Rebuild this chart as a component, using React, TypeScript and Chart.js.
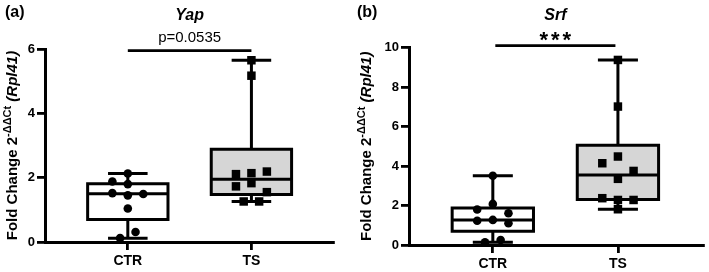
import React, { useEffect, useRef } from 'react';
import { Chart, registerables } from 'chart.js';

Chart.register(...registerables);

// ---------- data ----------
const categories = ['CTR', 'TS'];

// Yap: individual values
const yapCTR = [2.13, 1.88, 1.8, 1.52, 1.45, 1.49, 1.04, 0.31, 0.12];
const yapTS = [5.65, 5.17, 2.19, 2.14, 2.11, 1.83, 1.73, 1.55, 1.26, 1.26];
// Yap: box stats [min, Q1, median, Q3, max]
const yapCtrBox = [0.12, 0.7, 1.5, 1.81, 2.13];
const yapTsBox = [1.26, 1.48, 1.95, 2.88, 5.65];

// Srf: individual values
const srfCTR = [3.51, 2.08, 1.8, 1.61, 1.23, 1.27, 1.1, 0.14, 0.25];
const srfTS = [9.37, 7.01, 4.48, 4.14, 3.75, 3.35, 2.37, 2.28, 2.28, 1.81];
const srfCtrBox = [0.14, 0.7, 1.26, 1.87, 3.51];
const srfTsBox = [1.81, 2.3, 3.55, 5.05, 9.37];

// y ticks
const yapTicks = [0, 2, 4, 6];
const srfTicks = [0, 2, 4, 6, 8, 10];

// significance
const yapSigLabel = 'p=0.0535';
const yapSigY = 5.95;
const srfSigLabel = '***';
const srfSigY = 10.1;

// ---------- swarm layout (horizontal slot of each point, in point widths) ----------
const yapCtrSlots = [0, -1, 0, -1, 0, 1, 0, 0.5, -0.5];
const yapTsSlots = [0, 0, 1, 0, -1, 0, -1, 1, -0.5, 0.5];
const srfCtrSlots = [0, 0, -1, 1, -1, 0, 1, -0.5, 0.5];
const srfTsSlots = [0, 0, 0, -1, 1, 0, -1, 0, 1, 0];

const FONT = "'Liberation Sans', Arial, Helvetica, sans-serif";
const SLOT = 0.125;
const BOX_HALF = 0.325;
const CAP_HALF = 0.16;
const LW = 3;

type Group = {
  values: number[];
  slots: number[];
  box: number[];
  shape: 'circle' | 'rect';
  fill: string;
};

function makeDatasets(groups: Group[], sigFrom: number, sigTo: number, sigY: number) {
  const ds: any[] = [];
  groups.forEach((g, i) => {
    const c = i + 1;
    const [lo, q1, med, q3, hi] = g.box;
    ds.push({
      type: 'scatter',
      data: g.values.map((v, k) => ({ x: c + g.slots[k] * SLOT, y: v })),
      pointStyle: g.shape,
      pointRadius: g.shape === 'rect' ? 6 : 4.3,
      pointHoverRadius: g.shape === 'rect' ? 6 : 4.3,
      backgroundColor: '#000',
      borderColor: '#000',
      borderWidth: 0,
      order: 0,
      clip: false,
    });
    ds.push({
      type: 'line',
      data: [
        { x: c - BOX_HALF, y: med },
        { x: c + BOX_HALF, y: med },
      ],
      borderColor: '#000',
      borderWidth: LW,
      pointRadius: 0,
      fill: false,
      order: 1,
      clip: false,
    });
    ds.push({
      type: 'line',
      data: [
        { x: c, y: q1 },
        { x: c + BOX_HALF, y: q1 },
        { x: c + BOX_HALF, y: q3 },
        { x: c - BOX_HALF, y: q3 },
        { x: c - BOX_HALF, y: q1 },
        { x: c, y: q1 },
      ],
      borderColor: '#000',
      backgroundColor: g.fill,
      fill: 'shape',
      borderWidth: LW,
      borderJoinStyle: 'miter',
      pointRadius: 0,
      order: 2,
      clip: false,
    });
    ds.push({
      type: 'line',
      data: [
        { x: c, y: lo },
        { x: c, y: q1 },
        { x: c, y: null },
        { x: c, y: q3 },
        { x: c, y: hi },
        { x: c, y: null },
        { x: c - CAP_HALF, y: lo },
        { x: c + CAP_HALF, y: lo },
        { x: c, y: null },
        { x: c - CAP_HALF, y: hi },
        { x: c + CAP_HALF, y: hi },
      ],
      spanGaps: false,
      borderColor: '#000',
      borderWidth: LW,
      pointRadius: 0,
      fill: false,
      order: 3,
      clip: false,
    });
  });
  ds.push({
    type: 'line',
    data: [
      { x: sigFrom, y: sigY },
      { x: sigTo, y: sigY },
    ],
    borderColor: '#000',
    borderWidth: 2.8,
    pointRadius: 0,
    fill: false,
    order: 1,
    clip: false,
  });
  return ds;
}

const textPlugin = {
  id: 'panelText',
  afterDraw(chart: any, _args: any, opts: any) {
    const { ctx, chartArea, scales } = chart;
    const xs = scales.x;
    ctx.save();
    ctx.fillStyle = '#000';
    ctx.textBaseline = 'alphabetic';

    // panel label
    ctx.font = `bold 16px ${FONT}`;
    ctx.textAlign = 'left';
    ctx.fillText(opts.label, opts.labelX, 17);

    const mid = xs.getPixelForValue((opts.sigFrom + opts.sigTo) / 2);
    // gene title
    ctx.font = `italic bold 16px ${FONT}`;
    ctx.textAlign = 'center';
    ctx.fillText(opts.title, mid, 20);

    // significance label
    if (opts.stars) {
      ctx.font = `bold 22px ${FONT}`;
      const chars = opts.sigLabel.split('');
      const gap = 11.5;
      chars.forEach((ch: string, i: number) => {
        ctx.fillText(ch, mid + (i - (chars.length - 1) / 2) * gap, 46.5);
      });
    } else {
      ctx.font = `15px ${FONT}`;
      ctx.fillText(opts.sigLabel, mid, 42);
    }

    // y-axis title with superscript and italic gene
    const cy = (chartArea.top + chartArea.bottom) / 2;
    const segs = [
      { t: 'Fold Change 2', f: `bold 15px ${FONT}`, dy: 0 },
      { t: '-\u0394\u0394Ct', f: `bold 11px ${FONT}`, dy: -6 },
      { t: ' ', f: `bold 15px ${FONT}`, dy: 0 },
      { t: '(Rpl41)', f: `italic bold 15px ${FONT}`, dy: 0 },
    ];
    let total = 0;
    const widths = segs.map((s) => {
      ctx.font = s.f;
      const w = ctx.measureText(s.t).width;
      total += w;
      return w;
    });
    ctx.translate(opts.titleX, cy);
    ctx.rotate(-Math.PI / 2);
    ctx.textAlign = 'left';
    let x = -total / 2;
    segs.forEach((s, i) => {
      ctx.font = s.f;
      ctx.fillText(s.t, x, s.dy);
      x += widths[i];
    });
    ctx.restore();
  },
};

type PanelSpec = {
  width: number;
  yMax: number;
  ticks: number[];
  xMin: number;
  xMax: number;
  yW: number;
  top: number;
  bottom: number;
  right: number;
  groups: Group[];
  sigFrom: number;
  sigTo: number;
  sigY: number;
  text: any;
};

function makeConfig(p: PanelSpec): any {
  const axisCommon = {
    grid: {
      drawOnChartArea: false,
      drawTicks: true,
      tickLength: 8,
      lineWidth: 2.8,
      color: '#000',
    },
    border: { display: true, color: '#000', width: 3 },
  };
  return {
    type: 'scatter',
    data: { datasets: makeDatasets(p.groups, p.sigFrom, p.sigTo, p.sigY) },
    options: {
      animation: false,
      responsive: false,
      devicePixelRatio: 1,
      events: [],
      layout: { padding: { top: p.top, right: p.right, bottom: 0, left: 0 } },
      plugins: {
        legend: { display: false },
        tooltip: { enabled: false },
        panelText: p.text,
      },
      scales: {
        x: {
          type: 'linear',
          min: p.xMin,
          max: p.xMax,
          afterBuildTicks: (s: any) => {
            s.ticks = categories.map((_, i) => ({ value: i + 1 }));
          },
          afterFit: (s: any) => {
            s.height = 272 - p.bottom;
          },
          ticks: {
            callback: (v: number) => categories[Math.round(v) - 1] ?? '',
            font: { family: FONT, size: 14, weight: 'bold' },
            color: '#000',
            padding: 3,
            maxRotation: 0,
            autoSkip: false,
          },
          ...axisCommon,
        },
        y: {
          type: 'linear',
          min: 0,
          max: p.yMax,
          afterBuildTicks: (s: any) => {
            s.ticks = p.ticks.map((v) => ({ value: v }));
          },
          afterFit: (s: any) => {
            s.width = p.yW;
          },
          ticks: {
            font: { family: FONT, size: 13, weight: 'bold' },
            color: '#000',
            padding: 2,
          },
          ...axisCommon,
        },
      },
    },
    plugins: [textPlugin],
  };
}

const panelA: PanelSpec = {
  width: 354,
  yMax: 6,
  ticks: yapTicks,
  xMin: 0.33,
  xMax: 2.66,
  yW: 45,
  top: 49,
  bottom: 242,
  right: 21,
  groups: [
    { values: yapCTR, slots: yapCtrSlots, box: yapCtrBox, shape: 'circle', fill: '#ffffff' },
    { values: yapTS, slots: yapTsSlots, box: yapTsBox, shape: 'rect', fill: '#d6d6d6' },
  ],
  sigFrom: 1,
  sigTo: 2,
  sigY: yapSigY,
  text: { label: '(a)', labelX: 5, title: 'Yap', sigLabel: yapSigLabel, stars: false, sigFrom: 1, sigTo: 2, titleX: 17 },
};

const panelB: PanelSpec = {
  width: 355,
  yMax: 10,
  ticks: srfTicks,
  xMin: 0.33,
  xMax: 2.68,
  yW: 55,
  top: 47.5,
  bottom: 245,
  right: 2,
  groups: [
    { values: srfCTR, slots: srfCtrSlots, box: srfCtrBox, shape: 'circle', fill: '#ffffff' },
    { values: srfTS, slots: srfTsSlots, box: srfTsBox, shape: 'rect', fill: '#d6d6d6' },
  ],
  sigFrom: 1.02,
  sigTo: 1.98,
  sigY: srfSigY,
  text: { label: '(b)', labelX: 3, title: 'Srf', sigLabel: srfSigLabel, stars: true, sigFrom: 1, sigTo: 2, titleX: 17 },
};

function Panel({ spec, left }: { spec: PanelSpec; left: number }) {
  const ref = useRef<HTMLCanvasElement>(null);
  useEffect(() => {
    const chart = new Chart(ref.current as HTMLCanvasElement, makeConfig(spec));
    return () => chart.destroy();
  }, [spec]);
  return (
    <canvas
      ref={ref}
      width={spec.width}
      height={272}
      style={{ position: 'absolute', left, top: 0, width: spec.width, height: 272 }}
    />
  );
}

export default function App() {
  return (
    <div style={{ position: 'absolute', left: 0, top: 0, width: 709, height: 272, background: '#fff' }}>
      <Panel spec={panelA} left={0} />
      <Panel spec={panelB} left={354} />
    </div>
  );
}
